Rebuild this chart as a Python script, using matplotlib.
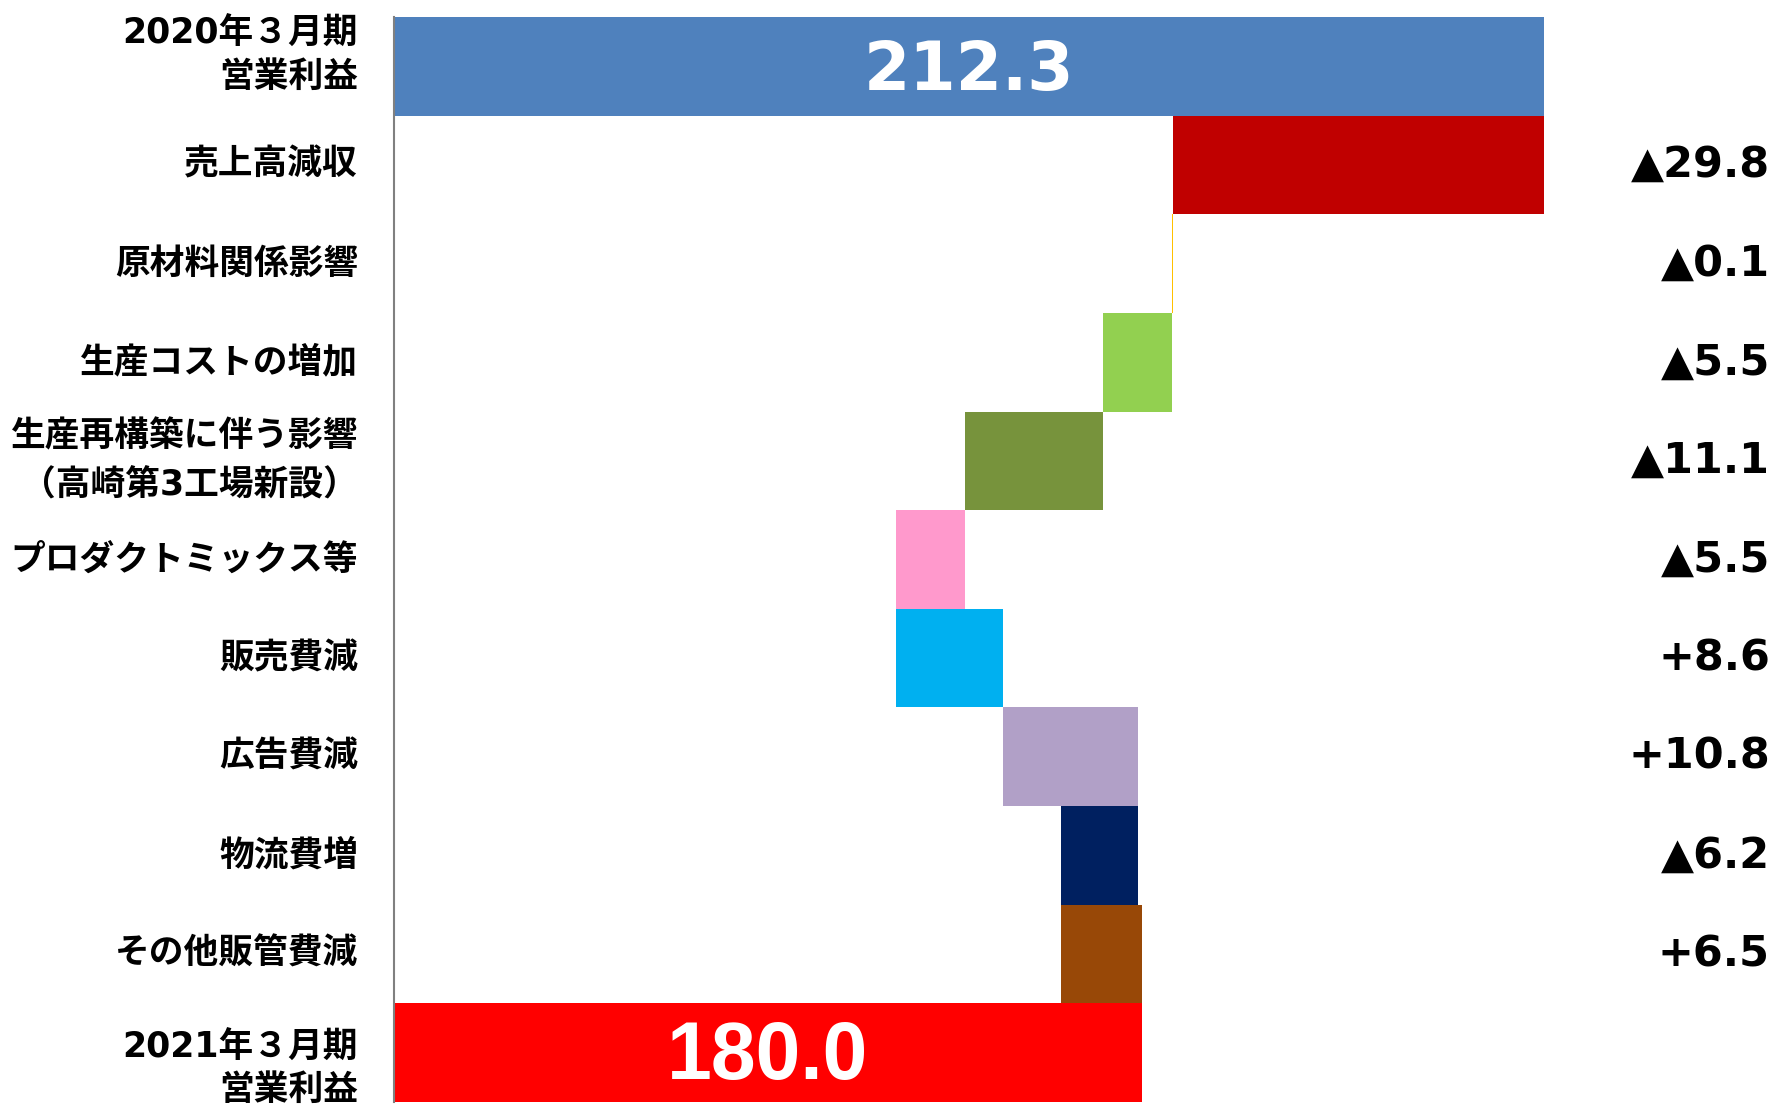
import matplotlib
matplotlib.use("Agg")
import matplotlib.pyplot as plt
from matplotlib.transforms import blended_transform_factory
import numpy as np

plt.rcParams['font.family'] = ['Noto Sans CJK JP', 'DejaVu Sans']

categories = [
    "2020年３月期\n営業利益",
    "売上高減収",
    "原材料関係影響",
    "生産コストの増加",
    "生産再構築に伴う影響\n（高崎第3工場新設）",
    "プロダクトミックス等",
    "販売費減",
    "広告費減",
    "物流費増",
    "その他販管費減",
    "2021年３月期\n営業利益",
]
start_value = 212.3
deltas = [-29.8, -0.1, -5.5, -11.1, -5.5, 8.6, 10.8, -6.2, 6.5]
end_value = 180.0
colors = ["#4F81BD", "#C00000", "#FFC000", "#92D050", "#77933C", "#FF99CC",
          "#00B0F0", "#B1A0C7", "#002060", "#984807", "#FF0000"]
axis_min = 120.0

# waterfall geometry from data
lefts, widths = [], []
lefts.append(axis_min); widths.append(start_value - axis_min)
level = start_value
for d in deltas:
    new = level + d
    lefts.append(min(level, new)); widths.append(abs(d))
    level = new
lefts.append(axis_min); widths.append(end_value - axis_min)

fig = plt.figure(figsize=(17.77, 11.07), dpi=100)
ax = fig.add_axes([394/1777, 1 - 1102/1107, 1246/1777, (1102-17)/1107])
y = np.arange(len(categories))
ax.barh(y, widths, left=lefts, height=1.0, color=colors, linewidth=0)
ax.set_xlim(axis_min, axis_min + 100)
ax.set_ylim(len(categories) - 0.5, -0.5)
for s in ["top", "right", "bottom"]:
    ax.spines[s].set_visible(False)
ax.spines["left"].set_color("#808080")
ax.spines["left"].set_linewidth(1.5)
ax.set_xticks([]); ax.set_yticks([])

# totals inside bars
ax.text((axis_min + start_value) / 2, 0.05, f"{start_value:.1f}", ha="center", va="center",
        color="white", fontsize=48, fontweight="bold", family=["DejaVu Sans"])
ax.text((axis_min + end_value) / 2, len(categories) - 1 + 0.05, f"{end_value:.1f}", ha="center",
        va="center", color="white", fontsize=58, fontweight="bold", family=["Liberation Sans"])

# left labels
tr = blended_transform_factory(fig.transFigure, ax.transData)
offsets = {0: -0.11, len(categories) - 1: 0.16}
spacing = {0: 1.35, 4: 1.55, len(categories) - 1: 1.3}
for i, lab in enumerate(categories):
    ax.text(358/1777, i + offsets.get(i, 0), lab, transform=tr, ha="right", va="center",
            fontsize=25, fontweight="bold", linespacing=spacing.get(i, 1.1),
            family=["DejaVu Sans", "Noto Sans CJK JP"])

# right delta labels
for i, d in enumerate(deltas, start=1):
    txt = ("▲" if d < 0 else "+") + f"{abs(d):.1f}"
    ax.text(1770/1777, i, txt, transform=tr, ha="right", va="center",
            fontsize=31, fontweight="bold", family=["DejaVu Sans"])

fig.savefig("out.png", dpi=100)
